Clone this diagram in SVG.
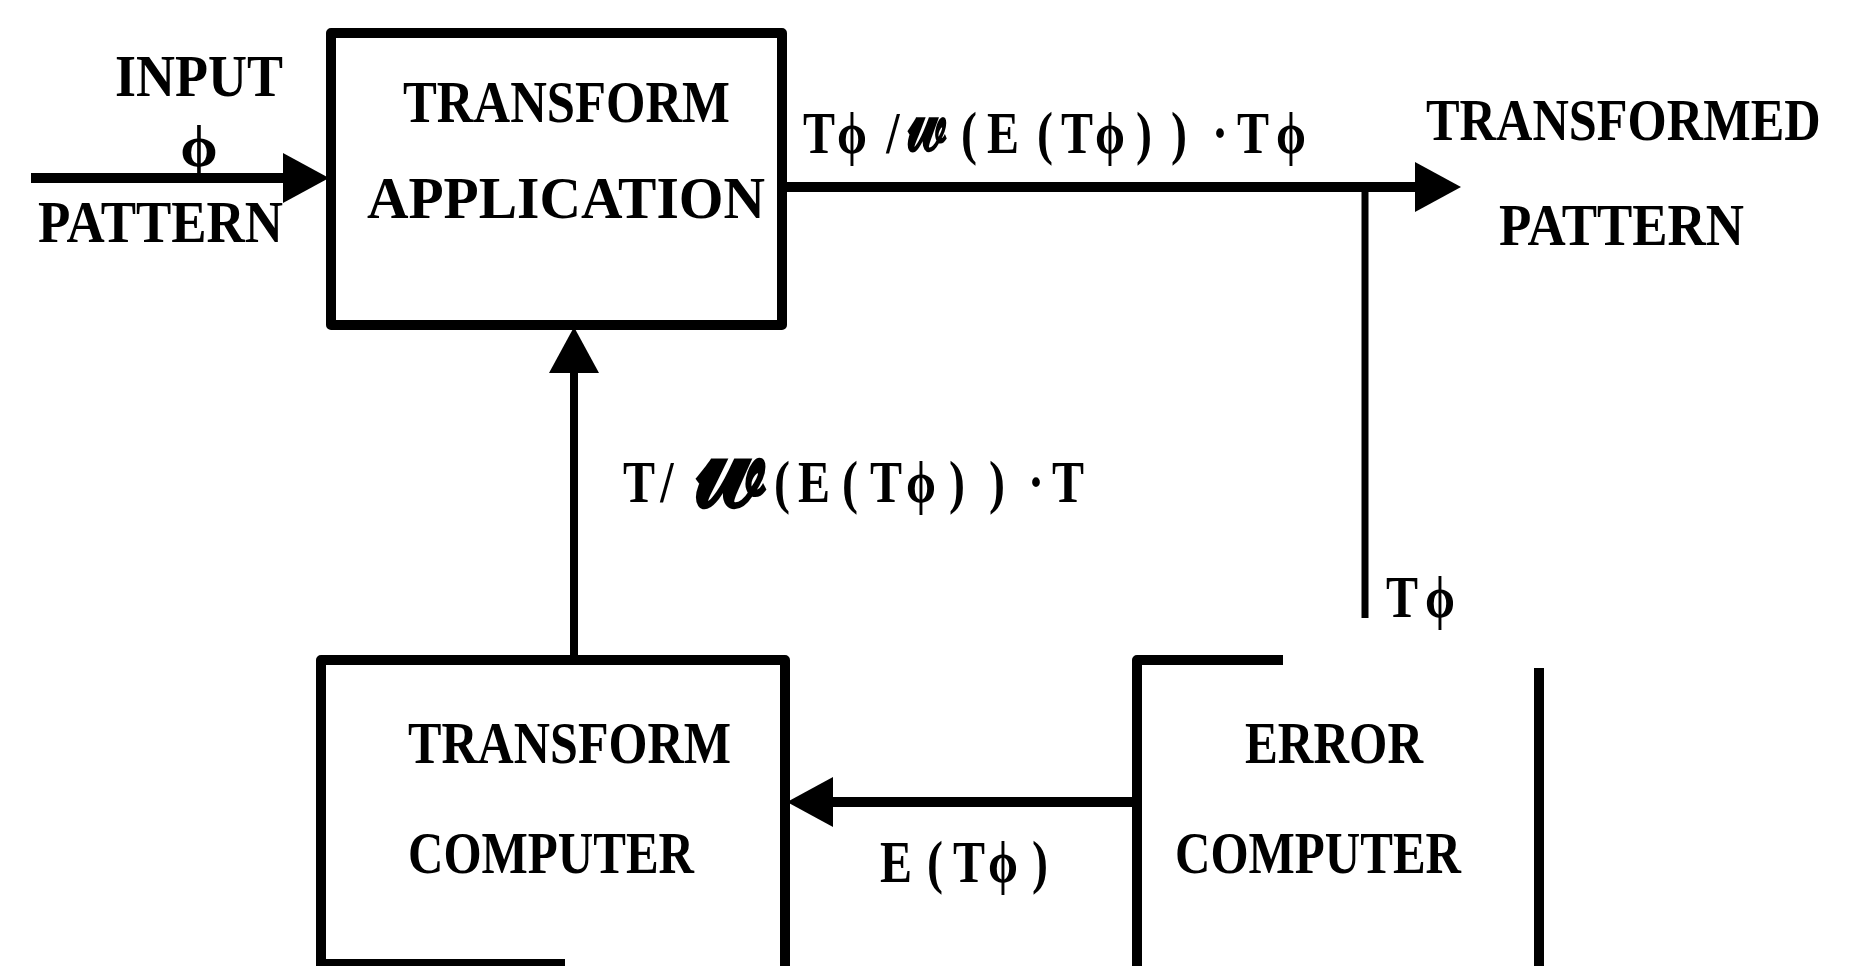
<svg xmlns="http://www.w3.org/2000/svg" width="1864" height="966" viewBox="0 0 1864 966">
<style>
.bg{fill:#fff}
.box{fill:none;stroke:#000;stroke-width:10;stroke-linejoin:round}
.ln{fill:none;stroke:#000}
.t{font-family:"Liberation Serif","DejaVu Serif",serif;font-size:60px;font-weight:bold;fill:#000}
.m{font-family:"Liberation Serif","DejaVu Serif",serif;font-size:60px;font-weight:bold;fill:#000;text-anchor:middle}
.w{font-family:"Noto Sans Math","DejaVu Sans","Liberation Serif",serif;font-weight:bold;fill:#000;text-anchor:middle}
</style>
<defs>
<marker id="ah" markerUnits="userSpaceOnUse" viewBox="0 0 46 50" markerWidth="46" markerHeight="50" refX="34" refY="25" orient="auto">
<path d="M0,0 L46,25 L0,50 Z" fill="#000"/>
</marker>
</defs>
<rect class="bg" width="1864" height="966"/>

<g id="input-label">
<text class="t" x="115" y="96" textLength="168" lengthAdjust="spacingAndGlyphs">INPUT</text>
<text class="t" x="199" y="166" font-size="42" text-anchor="middle">ϕ</text>
<text class="t" x="38" y="242" textLength="245" lengthAdjust="spacingAndGlyphs">PATTERN</text>
</g>

<g id="transform-application">
<rect class="box" x="331" y="33" width="451" height="292"/>
<text class="t" x="403" y="122" textLength="327" lengthAdjust="spacingAndGlyphs">TRANSFORM</text>
<text class="t" x="367" y="218" textLength="398" lengthAdjust="spacingAndGlyphs">APPLICATION</text>
</g>

<g id="output-label">
<text class="t" transform="translate(1426,140) scale(0.84,1)">TRANSFORMED</text>
<text class="t" x="1499" y="245" textLength="245" lengthAdjust="spacingAndGlyphs">PATTERN</text>
</g>

<g id="transform-computer">
<path class="box" d="M321,970 V660 H785 V970"/>
<path class="box" d="M321,964 H565"/>
<text class="t" x="408" y="763" textLength="323" lengthAdjust="spacingAndGlyphs">TRANSFORM</text>
<text class="t" x="408" y="873" textLength="286" lengthAdjust="spacingAndGlyphs">COMPUTER</text>
</g>

<g id="error-computer">
<path class="box" d="M1283,660 H1137 V970"/>
<path class="box" d="M1539,668 V970"/>
<text class="t" x="1245" y="763" textLength="178" lengthAdjust="spacingAndGlyphs">ERROR</text>
<text class="t" x="1175" y="873" textLength="286" lengthAdjust="spacingAndGlyphs">COMPUTER</text>
</g>

<g id="connectors">
<line class="ln" x1="31" y1="178" x2="317" y2="178" stroke-width="10" marker-end="url(#ah)"/>
<line class="ln" x1="782" y1="187" x2="1449" y2="187" stroke-width="10" marker-end="url(#ah)"/>
<line class="ln" x1="1365" y1="187" x2="1365" y2="618" stroke-width="7"/>
<line class="ln" x1="574" y1="658" x2="574" y2="339" stroke-width="8" marker-end="url(#ah)"/>
<line class="ln" x1="1137" y1="802" x2="799" y2="802" stroke-width="10" marker-end="url(#ah)"/>
</g>

<g id="connector-labels">
<g transform="scale(0.8,1)">
<text class="m" y="153" x="1023.75 1065 1116.25">Tϕ/</text>
<text class="m" y="153" x="1211.25 1253.75 1306.25 1346.25 1387.5 1430 1473.75 1525 1566.25 1613.75">(E(Tϕ))·Tϕ</text>
<text class="m" y="502" x="798.75 833.75">T/</text>
<text class="m" y="502" x="977.5 1017.5 1062.5 1107.5 1151.25 1196.25 1246.25 1295 1335">(E(Tϕ))·T</text>
<text class="m" y="617" x="1752.5 1800">Tϕ</text>
<text class="m" y="882" x="1120 1168.75 1211.25 1253.75 1300">E(Tϕ)</text>
</g>
<text class="w" font-size="62" transform="translate(927,150) scale(1,1.65)">𝓌</text>
<text class="w" font-size="112" transform="translate(731,506) scale(1,1.32)">𝓌</text>
</g>
</svg>
